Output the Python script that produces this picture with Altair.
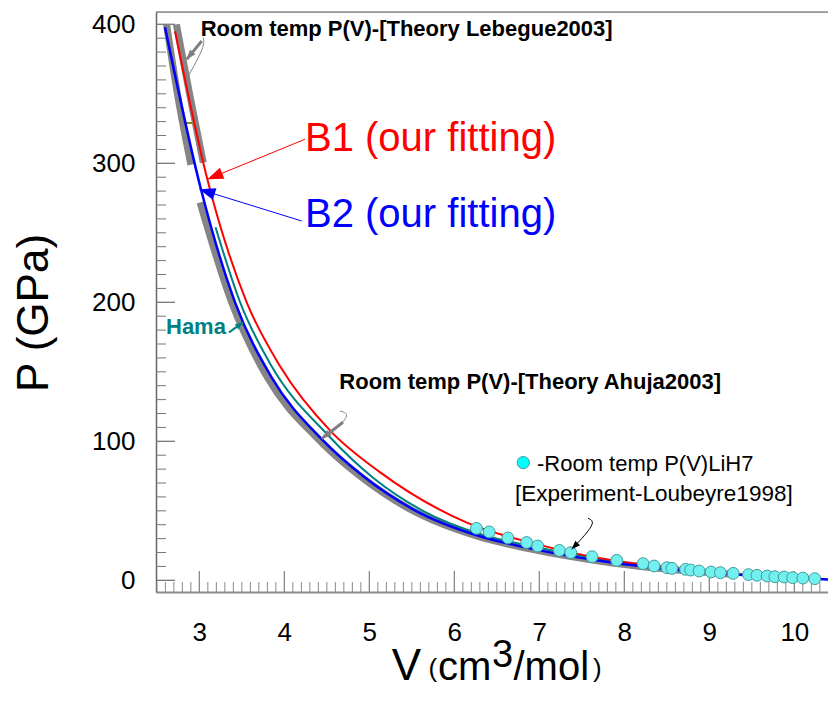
import altair as alt
import pandas as pd

# ---------------- data ----------------
# B1 (our fitting) - red
b1_v = [2.714, 3.094, 3.557, 3.95, 4.55, 5.12, 6.14, 7.0, 7.87, 8.65, 9.44, 10.3]
b1_p = [395.0, 288.5, 200.0, 154.0, 107.0, 78.0, 41.7, 25.5, 14.2, 8.2, 4.2, 1.2]
# B2 (our fitting) - blue
b2_v = [2.596, 3.019, 3.42, 3.85, 4.44, 4.925, 5.514, 6.302, 6.89, 7.866, 8.65, 9.44, 10.0, 10.54]
b2_p = [397.8, 281.3, 200.0, 146.0, 101.5, 75.0, 51.1, 31.7, 23.0, 12.7, 7.4, 3.6, 1.8, 0.2]
# Hama - teal
hama_v = [3.19, 3.48, 3.84, 4.52, 5.04, 5.63, 6.32, 7.0, 7.87, 8.65, 9.2]
hama_p = [254.0, 200.0, 155.0, 104.0, 74.0, 50.0, 33.0, 23.5, 13.3, 7.8, 5.0]
# Room temp P(V) - Theory Ahuja2003 - thick grey
ahuja_v = [3.008, 3.38, 3.80, 4.40, 4.89, 5.48, 6.27, 6.86, 7.84, 8.62, 9.3]
ahuja_p = [271.8, 200.0, 146.0, 101.5, 75.0, 51.1, 31.7, 23.0, 12.7, 7.4, 4.2]
# Room temp P(V) - Theory Lebegue2003 - two thick grey segments
leb_seg = ["a", "a", "a", "b", "b", "b"]
leb_v = [2.614, 2.75, 2.90, 2.73, 2.885, 3.046]
leb_p = [400.0, 347.0, 299.0, 400.0, 350.0, 300.5]
# Experiment Loubeyre1998 - cyan points
exp_v = [6.26, 6.41, 6.63, 6.85, 6.98, 7.235, 7.37, 7.62, 7.91, 8.22, 8.35, 8.50, 8.56,
         8.72, 8.78, 8.88, 9.02, 9.13, 9.28, 9.46, 9.56, 9.68, 9.77, 9.88, 9.98, 10.10, 10.24]
exp_p = [37.4, 34.8, 30.5, 27.2, 24.7, 21.5, 19.9, 17.0, 14.4, 12.0, 10.3, 9.1, 8.6,
         7.9, 7.4, 6.7, 6.0, 5.5, 5.0, 4.1, 3.6, 3.1, 2.6, 2.4, 1.9, 1.6, 1.2]
# small olive mark
olive_v = [2.81, 2.92]
olive_p = [329.0, 329.0]

# axis ticks
x_major = [3, 4, 5, 6, 7, 8, 9, 10]
x_minor = [round(2.5 + 0.1 * i, 1) for i in range(79)
           if abs((2.5 + 0.1 * i) - round(2.5 + 0.1 * i)) > 1e-6]
y_major = [0, 100, 200, 300, 400]
y_minor = [v for v in range(10, 410, 10) if v % 100 != 0]

# annotation arrows (data coordinates)
arrows = [
    # name, V list, P list, color, width, tipV, tipP, angle, headsize
    ("b1", [4.243, 3.094], [317.3, 288.5], "#ff0000", 1, 3.094, 288.5, 247.7, 100),
    ("b2", [4.204, 3.00], [258.5, 281.3], "#0000ff", 1, 3.00, 281.3, 287.2, 100),
    ("leb", [3.028, 2.851], [388.0, 374.8], "#808080", 3, 2.851, 374.8, 219.3, 36),
    ("ahu", [4.69, 4.439], [113.7, 101.9], "#808080", 3, 4.439, 101.9, 232.6, 36),
    ("lou", [7.572, 7.678, 7.38], [44.6, 41.7, 22.3], "#000000", 1, 7.38, 22.3, 223.2, 30),
    ("ham", [3.349, 3.514], [178.4, 185.6], "#008080", 2, 3.514, 185.6, 54.5, 25),
]
callout_lines = [
    ("leb2", [3.046, 3.066, 2.870], [390.4, 384.4, 362.8], "#808080"),
    ("ahu2", [4.655, 4.792, 4.537], [121.8, 119.4, 105.0], "#808080"),
]

# ---------------- chart ----------------
FONT = "Liberation Sans"
PW, PH = 672, 580
xs = alt.Scale(domain=[2.49, 2.49 + PW / 85.0], nice=False, zero=False)
ys = alt.Scale(domain=[-8.4, 408.85], nice=False, zero=False)
xaxis = alt.Axis(values=x_major, title=None, grid=False, ticks=False, tickSize=0,
                 domainColor="#8c8c8c", domainWidth=2, labelFontSize=26, labelFont=FONT,
                 labelColor="black", labelPadding=27, labelFlush=False)
yaxis = alt.Axis(values=y_major, title=None, grid=False, ticks=False, tickSize=0,
                 domainColor="#666666", domainWidth=1.5, labelFontSize=26, labelFont=FONT,
                 labelColor="black", labelPadding=21, labelFlush=False)


def X(f="V"):
    return alt.X(f"{f}:Q", scale=xs, axis=xaxis)


def Y(f="P"):
    return alt.Y(f"{f}:Q", scale=ys, axis=yaxis)


layers = []

# tick rules (inward)
layers.append(alt.Chart(pd.DataFrame({"V": x_minor})).mark_rule(color="#888888", strokeWidth=1)
              .encode(x=X(), y=alt.value(PH), y2=alt.value(PH - 10)))
layers.append(alt.Chart(pd.DataFrame({"V": x_major})).mark_rule(color="#888888", strokeWidth=1.3)
              .encode(x=X(), y=alt.value(PH), y2=alt.value(PH - 21)))
layers.append(alt.Chart(pd.DataFrame({"P": y_minor})).mark_rule(color="#777777", strokeWidth=1)
              .encode(y=Y(), x=alt.value(0), x2=alt.value(10)))
layers.append(alt.Chart(pd.DataFrame({"P": y_major})).mark_rule(color="#777777", strokeWidth=1.3)
              .encode(y=Y(), x=alt.value(0), x2=alt.value(19)))
# top frame line
layers.append(alt.Chart(pd.DataFrame({"a": [0]})).mark_rule(color="#555555", strokeWidth=1)
              .encode(x=alt.value(0), x2=alt.value(PW), y=alt.value(0)))


def line(v, p, color, width, detail=None):
    df = pd.DataFrame({"V": v, "P": p})
    enc = dict(x=X(), y=Y())
    if detail is not None:
        df["seg"] = detail
        enc["detail"] = "seg:N"
    return alt.Chart(df).mark_line(color=color, strokeWidth=width, clip=True,
                                   interpolate="monotone").encode(**enc)


layers.append(line(ahuja_v, ahuja_p, "#858585", 7))
layers.append(line(leb_v, leb_p, "#858585", 7, detail=leb_seg))
layers.append(alt.Chart(pd.DataFrame({"V": olive_v, "P": olive_p})).mark_line(color="#8a8a00", strokeWidth=2)
              .encode(x=X(), y=Y()))
layers.append(line(hama_v, hama_p, "#008080", 2))
layers.append(line(b1_v, b1_p, "#ff0000", 2))
layers.append(line(b2_v, b2_p, "#0000ff", 2.5))

# experimental points
layers.append(alt.Chart(pd.DataFrame({"V": exp_v, "P": exp_p}))
              .mark_point(shape="circle", filled=True, fill="#72f0f0", stroke="#3f9c9c",
                          strokeWidth=1, opacity=1, size=140, clip=True)
              .encode(x=X(), y=Y()))

# callouts
for name, v, p, color in callout_lines:
    layers.append(alt.Chart(pd.DataFrame({"V": v, "P": p, "i": list(range(len(v)))}))
                  .mark_line(color=color, strokeWidth=1, interpolate="basis")
                  .encode(x=X(), y=Y(), order="i:Q"))

HEAD = "M0,0L-1.2,3.2L1.2,3.2Z"
for name, v, p, color, w, tv, tp, ang, hs in arrows:
    layers.append(alt.Chart(pd.DataFrame({"V": v, "P": p, "i": list(range(len(v)))}))
                  .mark_line(color=color, strokeWidth=w, interpolate="basis" if len(v) > 2 else "linear")
                  .encode(x=X(), y=Y(), order="i:Q"))
    layers.append(alt.Chart(pd.DataFrame({"V": [tv], "P": [tp]}))
                  .mark_point(shape=HEAD, angle=ang, size=hs, filled=True, fill=color,
                              strokeWidth=0, opacity=1)
                  .encode(x=X(), y=Y()))


def txt(s, x, y, size, color="black", weight="normal", angle=0, align="left"):
    return (alt.Chart(pd.DataFrame({"t": [s]}))
            .mark_text(align=align, baseline="alphabetic", font=FONT, fontSize=size,
                       fontWeight=weight, color=color, angle=angle)
            .encode(x=alt.value(x), y=alt.value(y), text="t:N"))


layers += [
    txt("Room temp P(V)-[Theory Lebegue2003]", 44.7, 24, 22, weight="bold"),
    txt("B1 (our fitting)", 149, 139, 40, color="#ff0000"),
    txt("B2 (our fitting)", 149, 215.3, 40, color="#0000ff"),
    txt("Hama", 10, 322.3, 22, color="#008080", weight="bold"),
    txt("Room temp P(V)-[Theory Ahuja2003]", 183.3, 376.6, 22, weight="bold"),
    txt("-Room temp P(V)LiH7", 381, 459, 22),
    txt("[Experiment-Loubeyre1998]", 359, 489, 22.5),
    # axis titles
    txt("P (GPa)", -108, 301, 44, angle=270, align="center"),
    txt("V", 235.7, 668, 44),
    txt("(", 272.5, 665, 26),
    txt("cm", 282, 668, 40),
    txt("3", 336, 655, 38),
    txt("/mol", 357.5, 668, 40),
    txt(")", 437, 665, 26),
]

# legend symbol
layers.append(alt.Chart(pd.DataFrame({"a": [0]}))
              .mark_point(shape="circle", filled=True, fill="#00ffff", stroke="#3f9c9c",
                          strokeWidth=1, opacity=1, size=150)
              .encode(x=alt.value(367.3), y=alt.value(450.6)))

chart = (alt.layer(*layers)
         .properties(width=PW, height=PH,
                     autosize=alt.AutoSizeParams(type="none"),
                     padding={"left": 148, "top": 4, "right": 0, "bottom": 96})
         .configure_view(strokeWidth=0)
         .configure(background="white"))

chart.save("out.html", embed_options={"renderer": "svg", "actions": False})
